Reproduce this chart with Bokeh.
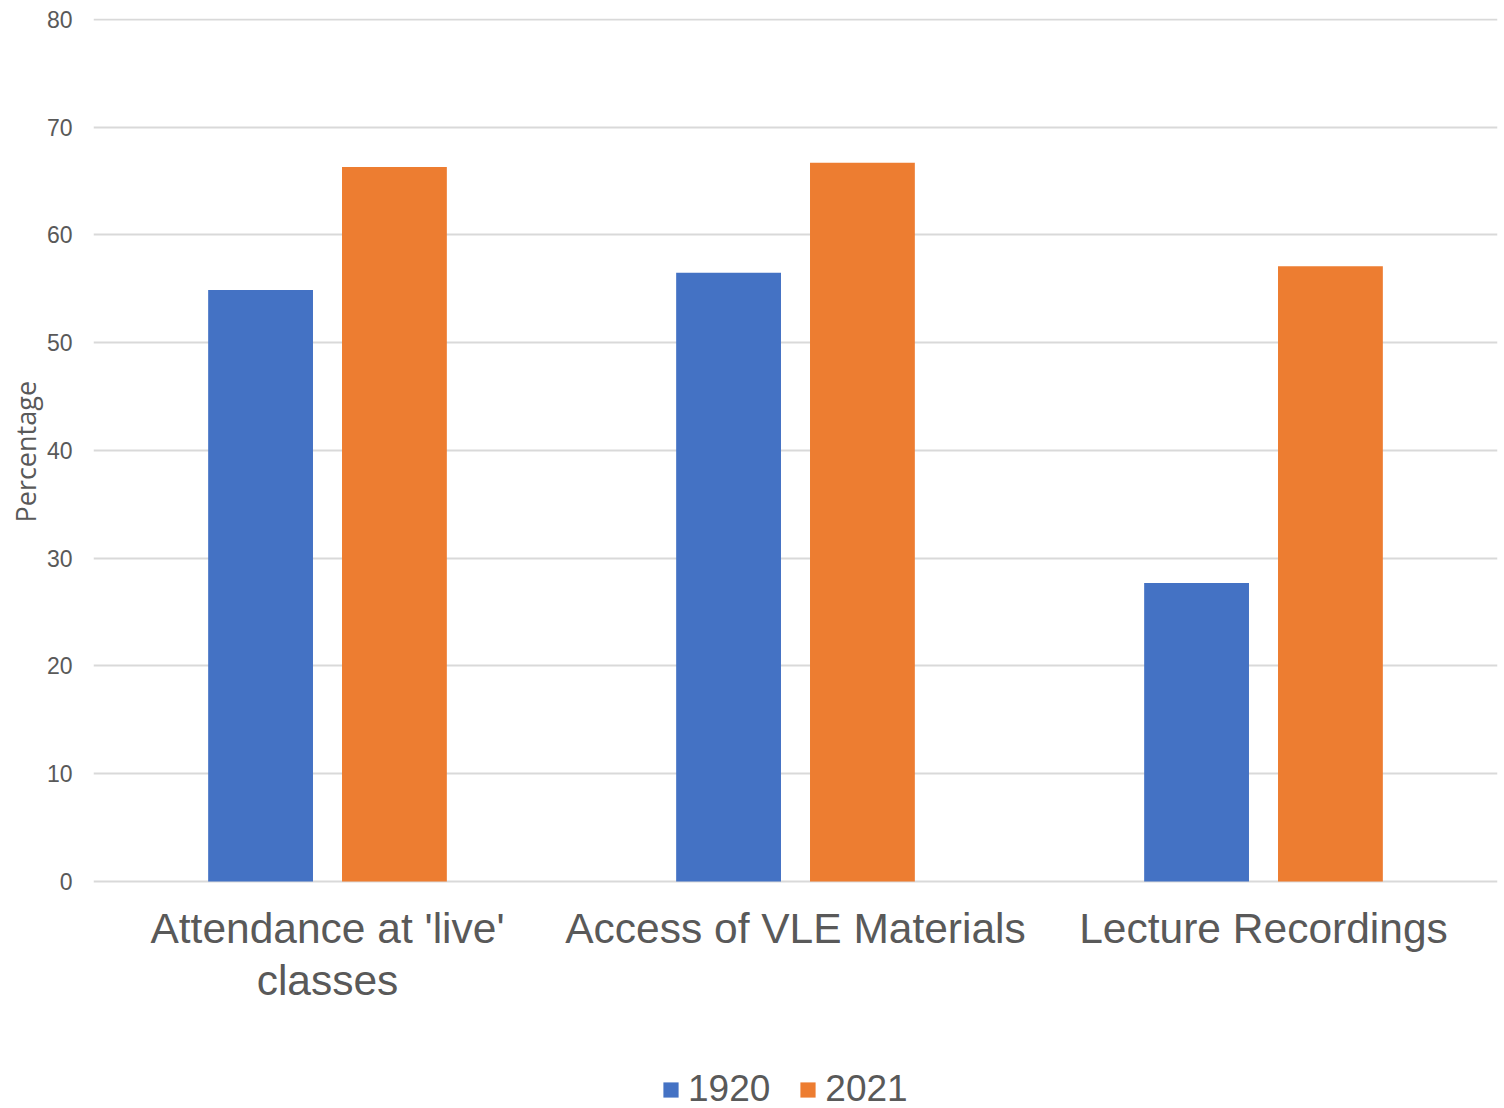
from bokeh.plotting import figure
from bokeh.models import Legend, LegendItem, FixedTicker, ColumnDataSource, Range1d, Title
from bokeh.core.properties import value
from bokeh.embed import file_html
from bokeh.resources import INLINE

categories = ["Attendance at 'live'\nclasses", "Access of VLE Materials", "Lecture Recordings"]
series_names = ["1920", "2021"]
values_1920 = [54.9, 56.5, 27.7]
values_2021 = [66.3, 66.7, 57.1]
y_ticks = [0, 10, 20, 30, 40, 50, 60, 70, 80]

colors = ["#4472C4", "#ED7D31"]
centers = [i + 0.5 for i in range(len(categories))]
offset = 0.143
bar_w = 0.224

# the frame reaches down to the bottom edge so that the category names
# and the legend sit inside it, beneath the zero line
p = figure(width=1504, height=1108,
           x_range=Range1d(0, 3), y_range=Range1d(-21.07, 80.09),
           output_backend="svg", toolbar_location=None,
           min_border_left=93, min_border_right=7, min_border_top=18,
           min_border_bottom=0)
p.outline_line_color = None
p.background_fill_color = "white"
p.border_fill_color = "white"

renderers = []
for k, (vals, col) in enumerate(zip([values_1920, values_2021], colors)):
    xs = [c + (-offset if k == 0 else offset) for c in centers]
    src = ColumnDataSource(dict(x=xs, top=vals))
    r = p.vbar(x="x", top="top", width=bar_w, source=src,
               fill_color=col, line_color=None)
    renderers.append(r)

# category names under each group
cat_src = ColumnDataSource(dict(x=centers, y=[0] * len(centers), text=categories))
p.text(x="x", y="y", text="text", source=cat_src, y_offset=24,
       text_align="center", text_baseline="top",
       text_font=value("Liberation Sans"), text_font_size="42.5px",
       text_line_height=1.1, text_color="#595959")

p.xaxis.visible = False

p.yaxis.ticker = FixedTicker(ticks=y_ticks)
p.yaxis.major_label_text_font = "Liberation Sans"
p.yaxis.major_label_text_font_size = "23px"
p.yaxis.major_label_text_color = "#595959"
p.yaxis.major_label_standoff = 21
p.yaxis.axis_line_color = None
p.yaxis.major_tick_line_color = None
p.yaxis.major_tick_out = 0
p.yaxis.minor_tick_line_color = None

# y title, placed alongside the 0-80 span rather than the whole frame
y_title = Title(text="Percentage", align="left", offset=586,
                text_font="Open Sans", text_font_style="normal",
                text_font_size="27px", text_color="#595959", standoff=0)
p.add_layout(y_title, "left")

p.xgrid.grid_line_color = None
p.ygrid.grid_line_color = "#D9D9D9"
p.ygrid.grid_line_width = 2

legend = Legend(items=[LegendItem(label=n, renderers=[r]) for n, r in zip(series_names, renderers)],
                orientation="horizontal", location=(568, -2),
                label_text_font="Liberation Sans", label_text_font_size="37px",
                label_text_color="#595959", glyph_width=19, glyph_height=19,
                label_standoff=8, spacing=28, border_line_color=None,
                background_fill_alpha=0, padding=0, margin=0)
p.add_layout(legend, "center")

open("out.html", "w").write(file_html(p, INLINE))
